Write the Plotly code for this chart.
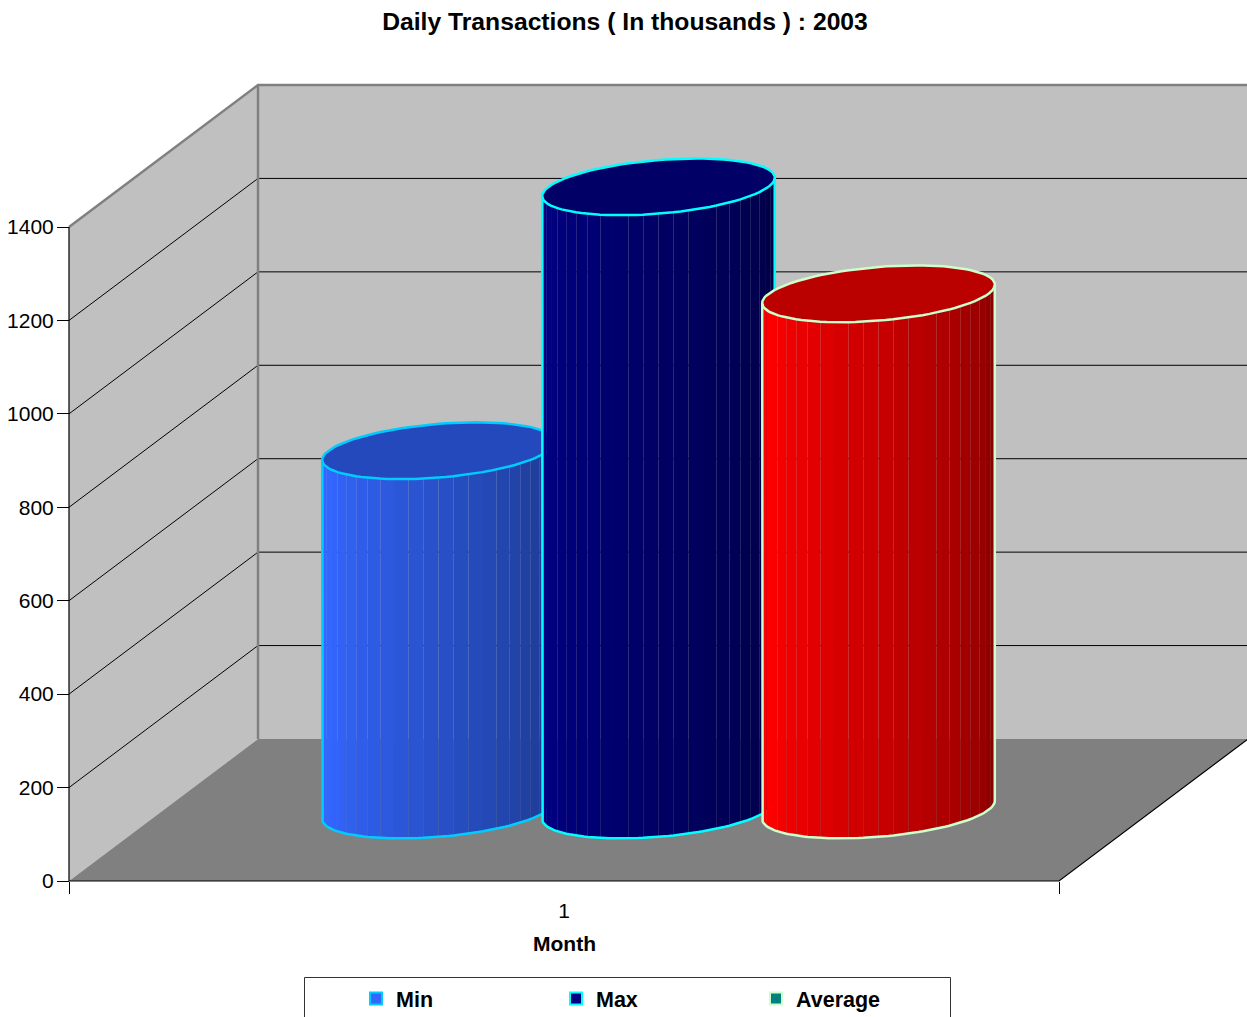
import math
import plotly.graph_objects as go

# ---- data ----
series_names = ["Min", "Max", "Average"]
series_values = [769, 1334, 1105]
body_colors = [(51, 102, 255), (0, 0, 128), (255, 0, 0)]
top_colors = ["#2349BC", "#000066", "#BB0000"]
edge_colors = ["#00CCFF", "#00FFFF", "#CCFFCC"]
legend_colors = ["#3366FF", "#000080", "#008080"]
y_ticks = [0, 200, 400, 600, 800, 1000, 1200, 1400]
category_label = "1"

# ---- chart geometry ----
W, H = 1247, 1017
X0, X1, Y0, Y1 = 69, 1059, 881, 227
PX_X = X1 - X0            # pixels per category unit
PX_V = (Y0 - Y1) / 1400   # pixels per value unit
DX = 189 / PX_X           # depth vector, in axis units
DV = 142 / PX_V
SLOT = 220 / PX_X
RADIUS = 110 / PX_X
RDEPTH = 0.2
N_STRIPS = 24
TEXT = "#000000"
FONT = "Liberation Sans"


def pt(x, v, d=0.0):
    return x + d * DX, v + d * DV


def circle(cx, v, t):
    x, y = pt(cx + RADIUS * math.cos(t), v, 0.5 + RDEPTH * math.sin(t))
    return x, y


def poly(points, fill=None, line=None, width=0, close=False):
    xs = [p[0] for p in points]
    ys = [p[1] for p in points]
    if close:
        xs.append(xs[0])
        ys.append(ys[0])
    return go.Scatter(
        x=xs, y=ys, mode="lines",
        fill="toself" if fill else "none",
        fillcolor=fill,
        line=dict(color=line or "rgba(0,0,0,0)", width=width),
        hoverinfo="skip", showlegend=False,
    )


fig = go.Figure()

# walls and floor
fig.add_trace(poly([pt(.5, 0), pt(.5, 1400), pt(.5, 1400, 1), pt(.5, 0, 1)], fill="#C0C0C0", close=True))
fig.add_trace(poly([pt(.5, 0, 1), pt(.5, 1400, 1), pt(1.5, 1400, 1), pt(1.5, 0, 1)], fill="#C0C0C0", close=True))
fig.add_trace(poly([pt(.5, 0), pt(1.5, 0), pt(1.5, 0, 1), pt(.5, 0, 1)], fill="#808080", close=True))

# gridlines
for v in y_ticks[1:-1]:
    fig.add_trace(poly([pt(.5, v), pt(.5, v, 1), pt(1.5, v, 1)], line="#000000", width=1))

# wall outline
fig.add_trace(poly([pt(.5, 1400), pt(.5, 1400, 1), pt(1.5, 1400, 1)], line="#808080", width=2.5))
fig.add_trace(poly([pt(.5, 0, 1), pt(.5, 1400, 1)], line="#808080", width=2.5))

# axis lines and right floor edge
fig.add_trace(poly([pt(.5, 1400), pt(.5, 0), pt(1.5, 0), pt(1.5, 0, 1)], line="#000000", width=1.2))

# cylinders
sil = math.atan2(DX * RDEPTH, RADIUS)   # silhouette angle of the projected circle
for i, val in enumerate(series_values):
    cx = 1 + (i - 1) * SLOT
    base = body_colors[i]
    start = math.pi + sil
    step = math.pi / N_STRIPS
    for k in range(N_STRIPS):
        frac = k / (N_STRIPS - 1)
        f = 1 - 0.48 * max(0.0, (frac - 0.1) / 0.9)
        col = "rgb(%d,%d,%d)" % tuple(round(c * f) for c in base)
        t0, t1 = start + k * step, start + (k + 1) * step
        ts = [t0 + (t1 - t0) * j / 3 for j in range(4)]
        pts = [circle(cx, 0, t) for t in ts] + [circle(cx, val, t) for t in reversed(ts)]
        fig.add_trace(poly(pts, fill=col, close=True))
    ts = [start + math.pi * j / 72 for j in range(73)]
    outline = [circle(cx, val, ts[0])] + [circle(cx, 0, t) for t in ts] + [circle(cx, val, ts[-1])]
    fig.add_trace(poly(outline, line=edge_colors[i], width=2.5))
    ring = [circle(cx, val, 2 * math.pi * j / 96) for j in range(97)]
    fig.add_trace(poly(ring, fill=top_colors[i], line=edge_colors[i], width=2.5))

# legend entries
for name, col, edge in zip(series_names, legend_colors, edge_colors):
    fig.add_trace(go.Scatter(
        x=[None], y=[None], mode="markers", name=name,
        marker=dict(symbol="square", size=12, color=col, line=dict(color=edge, width=2)),
    ))

# axes span the whole page so the projected depth stays on the same scales
xr = [0.5 - X0 / PX_X, 0.5 + (W - X0) / PX_X]
yr = [-(H - Y0) / PX_V, Y0 / PX_V]

fig.update_layout(
    width=W, height=H, autosize=False,
    margin=dict(l=0, r=0, t=0, b=0, autoexpand=False),
    paper_bgcolor="#FFFFFF", plot_bgcolor="rgba(0,0,0,0)",
    font=dict(family=FONT, size=21, color=TEXT),
    title=dict(
        text="<b>Daily Transactions ( In thousands ) : 2003</b>",
        x=625 / W, xanchor="center", y=1 - 21 / H, yanchor="middle",
        font=dict(family=FONT, size=24.7, color=TEXT),
    ),
    xaxis=dict(
        domain=[0, 1], range=xr, anchor="free", position=(H - Y0) / H,
        tickmode="array", tickvals=[1], ticktext=[category_label],
        ticks="outside", ticklen=12, tickcolor="rgba(0,0,0,0)",
        ticklabelstandoff=-1,
        minor=dict(tickmode="array", tickvals=[0.5, 1.5], ticks="outside", ticklen=12, tickcolor="#000000", tickwidth=1),
        showgrid=False, zeroline=False, showline=False,
        tickfont=dict(family=FONT, size=21, color=TEXT),
    ),
    yaxis=dict(
        domain=[0, 1], range=yr, anchor="free", position=X0 / W,
        tickmode="array", tickvals=y_ticks,
        ticks="outside", ticklen=12, tickcolor="#000000", tickwidth=1,
        ticklabelstandoff=-1,
        showgrid=False, zeroline=False, showline=False,
        tickfont=dict(family=FONT, size=21, color=TEXT),
    ),
    annotations=[dict(
        text="<b>Month</b>", xref="x", yref="y", x=1, y=-(943 - Y0) / PX_V,
        xanchor="center", yanchor="middle", showarrow=False,
        font=dict(family=FONT, size=21, color=TEXT),
    )],
    legend=dict(
        orientation="h", x=356 / W, xanchor="left", y=1 - 978 / H, yanchor="top",
        entrywidth=155, entrywidthmode="pixels", traceorder="normal",
        bgcolor="rgba(0,0,0,0)", borderwidth=0,
        font=dict(family=FONT, size=21.5, color=TEXT, weight="bold"),
    ),
    shapes=[dict(
        type="rect", xref="paper", yref="paper",
        x0=304.5 / W, x1=950.5 / W, y0=-0.05, y1=1 - 977.5 / H,
        line=dict(color="#333333", width=1), fillcolor="#FFFFFF", layer="below",
    )],
)

fig.write_html(
    "out.html",
    config={"displayModeBar": False},
    post_script="document.body.style.margin='0';document.documentElement.style.overflow='hidden';",
)
